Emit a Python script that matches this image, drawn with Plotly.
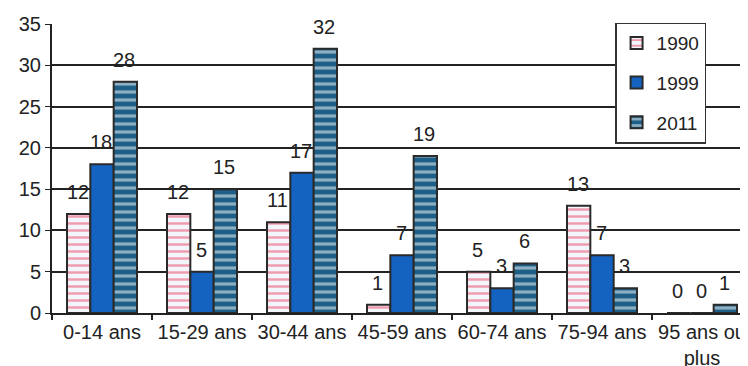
import plotly.graph_objects as go

categories = ["0-14 ans", "15-29 ans", "30-44 ans", "45-59 ans", "60-74 ans", "75-94 ans", "95 ans ou<br>plus"]
v1990 = [12, 12, 11, 1, 5, 13, 0]
v1999 = [18, 5, 17, 7, 3, 7, 0]
v2011 = [28, 15, 32, 19, 6, 3, 1]
y_ticks = [0, 5, 10, 15, 20, 25, 30, 35]

FONT = "Liberation Sans, Arial, sans-serif"
TXT = "#222222"
BARGAP = 0.3

series = [
    ("1990", v1990, dict(color="white", line=dict(color="#2a2a2a", width=2),
                         pattern=dict(shape="-", fgcolor="#ec3f62", bgcolor="#f2f6fb", size=7, solidity=0.35))),
    ("1999", v1999, dict(color="#1463c0", line=dict(color="#2a2a2a", width=2))),
    ("2011", v2011, dict(color="#1d5f86", line=dict(color="#2a2a2a", width=2),
                         pattern=dict(shape="-", fgcolor="white", bgcolor="#1d5f86", size=8, solidity=0.4))),
]

fig = go.Figure()
n = len(series)
bw = (1 - BARGAP) / n
for k, (name, vals, marker) in enumerate(series):
    fig.add_bar(name=name, x=categories, y=vals, legendgroup=name, marker=marker)
    # data labels placed above each bar via the axes' own coordinates
    off = (k - (n - 1) / 2) * bw
    for i, v in enumerate(vals):
        fig.add_annotation(
            x=i + off, y=v, xref="x", yref="y", text=str(v), showarrow=False,
            yanchor="bottom", yshift=9, xshift=-1,
            font=dict(family=FONT, size=20, color=TXT),
        )

fig.update_layout(
    width=748, height=366,
    margin=dict(l=44, r=8, t=16, b=61, autoexpand=False),
    paper_bgcolor="white", plot_bgcolor="white",
    barmode="group", bargap=BARGAP, bargroupgap=0,
    font=dict(family=FONT, size=20, color=TXT),
    showlegend=True,
    legend=dict(
        x=0.809, y=1.005, xanchor="left", yanchor="top",
        bgcolor="white", bordercolor="#333333", borderwidth=1.5,
        font=dict(family=FONT, size=19, color=TXT),
        tracegroupgap=12, traceorder="grouped",
        itemwidth=30,
    ),
)
fig.update_xaxes(
    type="category", range=[-0.5, 6.46], automargin=False,
    showline=True, linecolor="#222222", linewidth=2,
    ticks="outside", tickson="boundaries", ticklen=5, tickcolor="#222222", tickwidth=1.5,
    showgrid=False, tickfont=dict(family=FONT, size=20, color=TXT),
)
fig.update_yaxes(
    range=[0, 35], tickvals=y_ticks, automargin=False,
    showline=True, linecolor="#222222", linewidth=2,
    ticks="outside", ticklen=5, tickcolor="#222222",
    showgrid=True, gridcolor="#222222", gridwidth=1.5,
    zeroline=False, tickfont=dict(family=FONT, size=20, color=TXT),
)

fig.write_html("out.html")
